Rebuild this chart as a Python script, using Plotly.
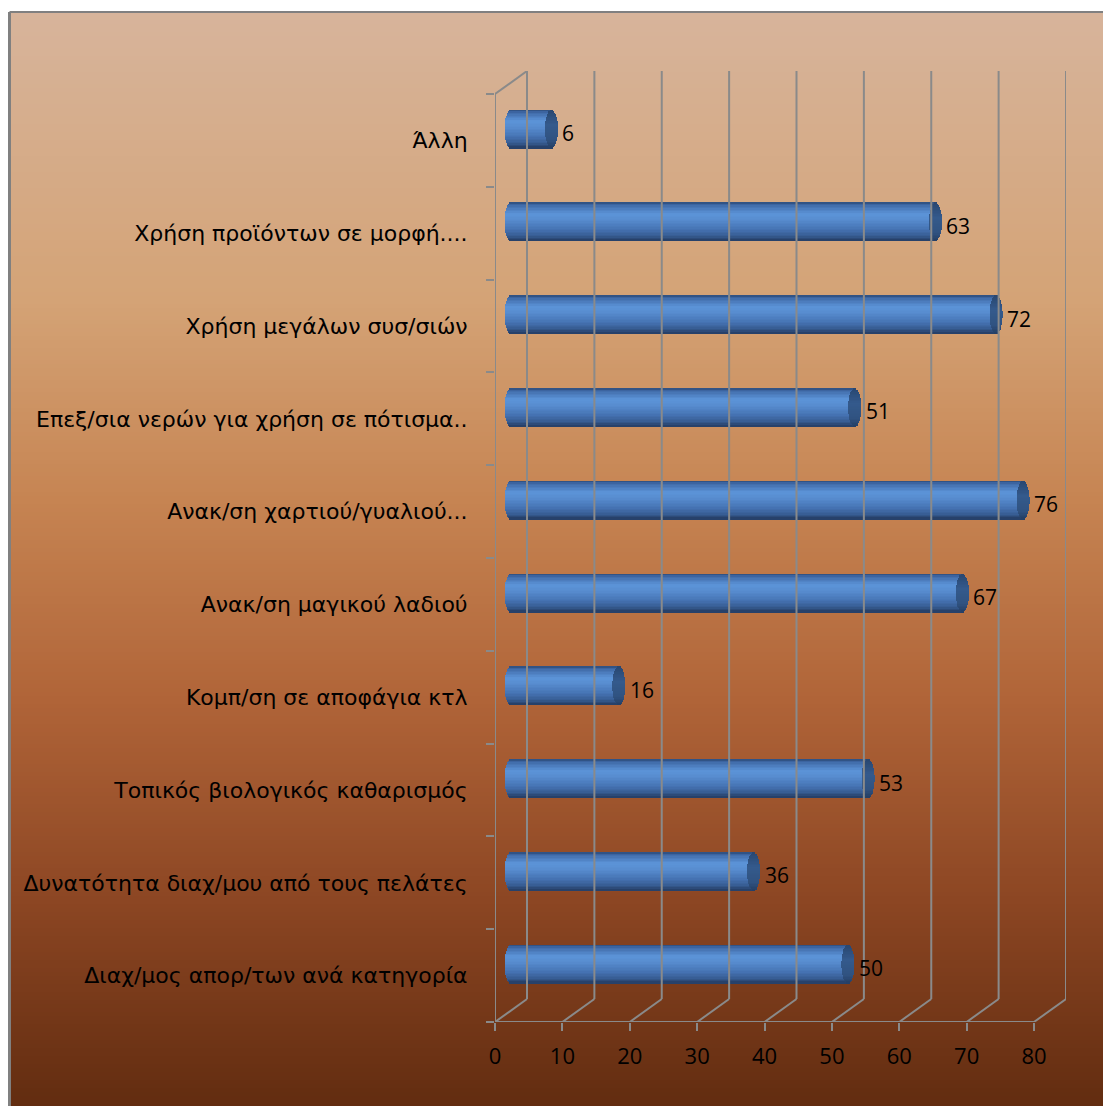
import math
import plotly.graph_objects as go

# Survey categories, listed bottom to top as they appear on the axis
categories = [
    "Διαχ/μος απορ/των ανά κατηγορία",
    "Δυνατότητα διαχ/μου από τους πελάτες",
    "Τοπικός βιολογικός καθαρισμός",
    "Κομπ/ση σε αποφάγια κτλ",
    "Ανακ/ση μαγικού λαδιού",
    "Ανακ/ση χαρτιού/γυαλιού...",
    "Επεξ/σια νερών για χρήση σε πότισμα..",
    "Χρήση μεγάλων συσ/σιών",
    "Χρήση προϊόντων σε μορφή....",
    "Άλλη",
]
values = [50, 36, 53, 16, 67, 76, 51, 72, 63, 6]
x_ticks = [0, 10, 20, 30, 40, 50, 60, 70, 80]

# ---- page geometry (pixels) ----
W, H = 1103, 1106
L, R, T, B = 495, 1066, 71, 1022          # plot area edges
X_MAX = x_ticks[-1]
PX_PER_X = (1034 - L) / X_MAX              # front axis: 0..80 spans 495..1034
DX = 32 / PX_PER_X                          # depth offset of the back wall (x units)
N = len(categories)
PX_PER_Y = (B - 94) / N
DY = 23 / PX_PER_Y                          # depth offset of the back wall (y units)

X_RANGE = [0, (R - L) / PX_PER_X]
Y_RANGE = [-0.5, -0.5 + (B - T) / PX_PER_Y]

GRID = "#8a8a8a"
FONT = "Open Sans"
CAT_FONT = "DejaVu Sans"


def px_x(p):
    return (p - L) / (R - L)


def px_y(p):
    return (B - p) / (B - T)


def lerp_color(stops, f):
    for (f0, c0), (f1, c1) in zip(stops, stops[1:]):
        if f0 <= f <= f1:
            u = 0 if f1 == f0 else (f - f0) / (f1 - f0)
            c = [round(a + (b - a) * u) for a, b in zip(c0, c1)]
            return "rgb(%d,%d,%d)" % tuple(c)
    c = stops[-1][1]
    return "rgb(%d,%d,%d)" % tuple(c)


fig = go.Figure()

# ---- 3D frame: back wall verticals, floor diagonals, left wall ----
gx, gy = [], []
for v in x_ticks:
    gx += [v + DX, v + DX, None]
    gy += [-0.5 + DY, N - 0.5 + DY, None]
    gx += [v, v + DX, None]
    gy += [-0.5, -0.5 + DY, None]
gx += [0, 0, None, 0, DX, None, 0, X_MAX, None]
gy += [-0.5, N - 0.5, None, N - 0.5, N - 0.5 + DY, None, -0.5, -0.5, None]
fig.add_trace(go.Scatter(x=gx, y=gy, mode="lines", line=dict(color=GRID, width=2),
                         hoverinfo="skip", showlegend=False, cliponaxis=False))

# ---- cylinders, built from thin horizontal stripes ----
pos = [i + DY / 2 for i in range(N)]
b0 = DX / 2
thick = 0.41                      # cylinder diameter in category units
a = 6.5 / PX_PER_X                # half-width of the end ellipse (x units)
NS = 26
h = thick / NS

body_stops = [(0.0, (44, 74, 120)), (0.07, (64, 106, 168)), (0.3, (92, 148, 216)),
              (0.45, (88, 141, 208)), (0.7, (70, 116, 180)), (0.88, (55, 92, 146)),
              (1.0, (36, 60, 98))]
cap_stops = [(0.0, (40, 70, 112)), (0.4, (52, 90, 140)), (0.8, (48, 82, 128)),
             (1.0, (36, 62, 100))]

for k in range(NS):
    f = (k + 0.5) / NS
    t = 1 - 2 * f
    half = a * math.sqrt(max(0.0, 1 - t * t))
    off = t * thick / 2 - 0.6 * h
    bases = [b0 - half for _ in values]
    lens = [b0 + v - bb for v, bb in zip(values, bases)]
    fig.add_trace(go.Bar(orientation="h", y=pos, x=lens, base=bases, width=h * 1.25, offset=off,
                         marker=dict(color=lerp_color(body_stops, f), line=dict(width=0)),
                         hoverinfo="skip", showlegend=False))
for k in range(NS):
    f = (k + 0.5) / NS
    t = 1 - 2 * f
    half = a * math.sqrt(max(0.0, 1 - t * t))
    off = t * thick / 2 - 0.6 * h
    fig.add_trace(go.Bar(orientation="h", y=pos, x=[2 * half for _ in values],
                         base=[b0 + v - half for v in values], width=h * 1.25, offset=off,
                         marker=dict(color=lerp_color(cap_stops, f), line=dict(width=0)),
                         hoverinfo="skip", showlegend=False))

# ---- value labels ----
for v, p in zip(values, pos):
    fig.add_annotation(x=b0 + v, y=p, text=str(v), showarrow=False, xanchor="left",
                       yanchor="middle", xshift=9, yshift=-4,
                       font=dict(family=FONT, size=21, color="black"))

# ---- background gradient and frame ----
bg_stops = [(12, (215, 180, 155)), (300, (212, 163, 118)), (500, (198, 132, 82)),
            (700, (176, 100, 56)), (900, (140, 70, 35)), (1106, (98, 44, 16))]
bg_norm = [((p - 12) / (1106 - 12), c) for p, c in bg_stops]
shapes = []
step = 4
y0 = 12
while y0 < H:
    y1 = min(H, y0 + step)
    f = ((y0 + y1) / 2 - 12) / (1106 - 12)
    shapes.append(dict(type="rect", xref="paper", yref="paper", layer="below",
                       x0=px_x(9), x1=px_x(W), y0=px_y(y1 + 0.6), y1=px_y(y0),
                       fillcolor=lerp_color(bg_norm, f), line=dict(width=0)))
    y0 = y1
shapes.append(dict(type="line", xref="paper", yref="paper", layer="below",
                   x0=px_x(9.5), x1=px_x(W), y0=px_y(12), y1=px_y(12),
                   line=dict(color="#808080", width=2)))
shapes.append(dict(type="line", xref="paper", yref="paper", layer="below",
                   x0=px_x(9.5), x1=px_x(9.5), y0=px_y(12), y1=px_y(H),
                   line=dict(color="#808080", width=3)))

fig.update_layout(
    width=W, height=H,
    margin=dict(l=L, r=W - R, t=T, b=H - B, pad=0),
    paper_bgcolor="white", plot_bgcolor="rgba(0,0,0,0)",
    barmode="overlay", bargap=0,
    shapes=shapes,
    font=dict(family=FONT, size=20, color="black"),
    xaxis=dict(range=X_RANGE, tickvals=x_ticks, ticks="outside", ticklen=8, tickwidth=2,
               tickcolor=GRID, showgrid=False, zeroline=False, showline=False,
               ticklabelstandoff=7,
               tickfont=dict(family=FONT, size=22, color="black"), fixedrange=True),
    yaxis=dict(range=Y_RANGE, tickvals=list(range(N)), ticktext=categories,
               ticks="outside", ticklen=22, tickcolor="rgba(0,0,0,0)",
               showgrid=False, zeroline=False, showline=False,
               tickfont=dict(family=CAT_FONT, size=22, color="black"),
               minor=dict(tickvals=[i - 0.5 for i in range(N + 1)], ticks="outside",
                          ticklen=8, tickwidth=2, tickcolor=GRID, showgrid=False),
               fixedrange=True),
)

fig.write_html("out.html")
